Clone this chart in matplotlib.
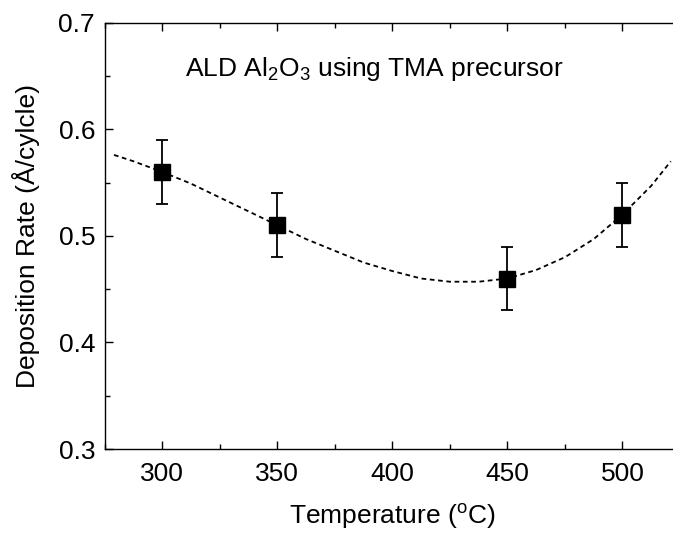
import numpy as np
import matplotlib.pyplot as plt
from matplotlib.ticker import MultipleLocator

plt.rcParams['font.family'] = ['Liberation Sans', 'DejaVu Sans']
plt.rcParams['mathtext.default'] = 'regular'

# measured points
temps = [300, 350, 450, 500]
rates = [0.56, 0.51, 0.46, 0.52]
errs = [0.03, 0.03, 0.03, 0.03]

# dashed trend line
curve_x = [279, 287.5, 300, 312.5, 325, 337.5, 350, 362.5, 375, 387.5, 400,
           412.5, 425, 437.5, 450, 462.5, 475, 487.5, 500, 512.5, 521]
curve_y = [0.576, 0.570, 0.560, 0.549, 0.536, 0.523, 0.510, 0.497, 0.486,
           0.475, 0.467, 0.460, 0.457, 0.457, 0.460, 0.468, 0.480, 0.497,
           0.520, 0.547, 0.570]

xticks = [300, 350, 400, 450, 500]
yticks = [0.3, 0.4, 0.5, 0.6, 0.7]

fig = plt.figure(figsize=(6.73, 5.36), dpi=100)
# axes runs past the right edge of the figure, like the cropped original
ax = fig.add_axes([0.1557, 0.1623, 0.8547, 0.7952])

ax.plot(curve_x, curve_y, color='black', lw=1.3, linestyle=(0, (2.6, 2.0)))
ax.errorbar(temps, rates, yerr=errs, fmt='s', color='black', ms=11.5,
            elinewidth=1.3, capsize=4.3, capthick=1.3)

ax.set_xlim(275, 525)
ax.set_ylim(0.3, 0.7)
ax.set_xticks(xticks)
ax.set_yticks(yticks)
ax.xaxis.set_minor_locator(MultipleLocator(25))
ax.yaxis.set_minor_locator(MultipleLocator(0.05))
ax.tick_params(which='both', direction='in', top=True, right=False,
               width=1.0, labelsize=19)
ax.tick_params(axis='x', which='major', length=6, pad=9)
ax.tick_params(axis='y', which='major', length=6, pad=7)
ax.tick_params(which='minor', length=3.5)
ax.set_yticklabels(['0.3', '0.4', '0.5', '0.6', '0.7'])
for s in ax.spines.values():
    s.set_linewidth(1.0)

ax.set_xlabel('Temperature ($^{o}$C)', fontsize=19)
ax.set_ylabel('Deposition Rate (Å/cylcle)', fontsize=19)
ax.xaxis.label.set_va('baseline')
ax.xaxis.set_label_coords(0.5, -0.176)
ax.yaxis.label.set_va('baseline')
ax.yaxis.set_label_coords(-0.1214, 0.5)

ax.text(309.8, 0.6503, 'ALD Al$_2$O$_3$ using TMA precursor', fontsize=19,
        va='baseline', ha='left')

fig.savefig('out.png', dpi=100)
